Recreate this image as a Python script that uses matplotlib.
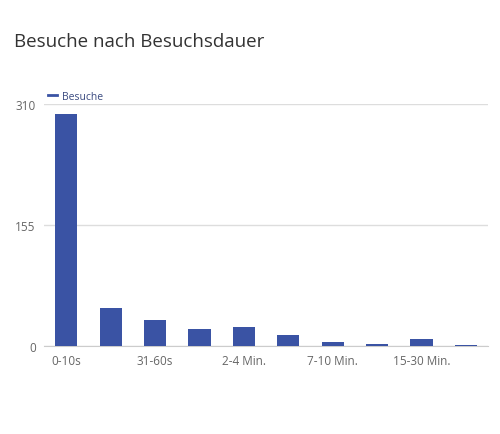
import matplotlib
matplotlib.use("Agg")
from matplotlib import pyplot as plt
from matplotlib.lines import Line2D

categories = ["0-10s", "11-30s", "31-60s", "1-2 Min.", "2-4 Min.", "4-7 Min.",
              "7-10 Min.", "10-15 Min.", "15-30 Min.", "30+ Min."]
visits = [297, 49, 33, 22, 24, 14, 5, 3, 9, 2]
y_ticks = [0, 155, 310]

bar_color = "#3a53a4"
text_color = "#666666"

plt.rcParams["font.family"] = ["Open Sans", "DejaVu Sans"]
fig = plt.figure(figsize=(5, 4.35), dpi=100)
ax = fig.add_axes([0.088, 0.202, 0.888, 0.557])

x = list(range(len(categories)))
ax.bar(x, visits, width=0.5, color=bar_color, zorder=3)
ax.set_xlim(-0.5, len(categories) - 0.5)
ax.set_ylim(0, 310)
ax.set_yticks(y_ticks)
ax.set_yticklabels([str(v) for v in y_ticks], color=text_color, fontsize=8.5)
ax.set_xticks(x)
ax.set_xticklabels([c if i % 2 == 0 else "" for i, c in enumerate(categories)],
                   color=text_color, fontsize=8.5)
ax.tick_params(length=0, pad=6)
ax.grid(axis="y", color="#dddddd", linewidth=1, zorder=0)
for side in ["top", "right", "left"]:
    ax.spines[side].set_visible(False)
ax.spines["bottom"].set_color("#cccccc")

handle = Line2D([0], [0], color=bar_color, linewidth=2)
ax.legend([handle], ["Besuche"], loc="lower left", bbox_to_anchor=(0.0, 0.99),
          frameon=False, fontsize=7.5, handlelength=0.8, handletextpad=0.5,
          borderaxespad=0, labelcolor="#3a4a80")

fig.text(0.028, 0.903, "Besuche nach Besuchsdauer", fontsize=13.5, color="#333333",
         va="center", ha="left")

fig.savefig("out.png", dpi=100)
